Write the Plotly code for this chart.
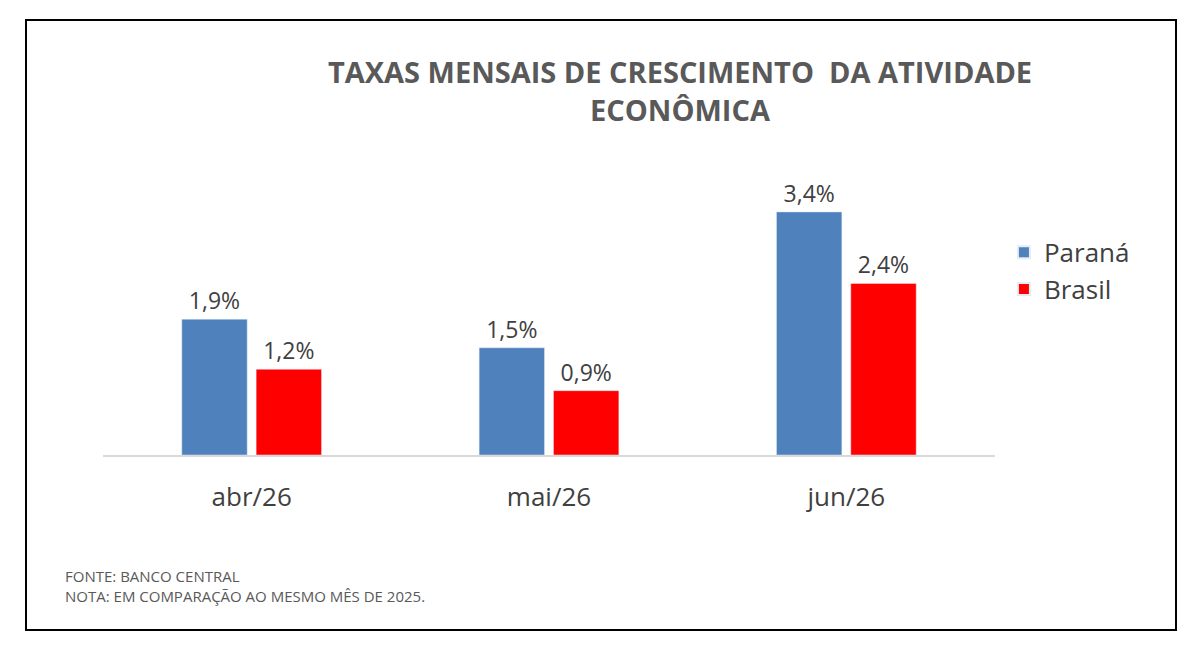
import plotly.graph_objects as go

months = ["abr/26", "mai/26", "jun/26"]
parana = [1.9, 1.5, 3.4]
brasil = [1.2, 0.9, 2.4]

W, H = 1187, 646
L, R, T, B = 95, 200, 150, 199
pw, ph = W - L - R, H - T - B


def px(x):
    return (x - L) / pw


def py(y):
    return (H - B - y) / ph


font = "Open Sans"
gray = "#595959"

fig = go.Figure()
fig.add_trace(go.Bar(x=months, y=parana, name="Paraná", marker_color="#4F81BD",
                     text=[f"{v:.1f}%".replace(".", ",") for v in parana],
                     textposition="outside", cliponaxis=False,
                     textfont=dict(size=23, color="#404040", family=font)))
fig.add_trace(go.Bar(x=months, y=brasil, name="Brasil", marker_color="#FF0000",
                     text=[f"{v:.1f}%".replace(".", ",") for v in brasil],
                     textposition="outside", cliponaxis=False,
                     textfont=dict(size=23, color="#404040", family=font)))

fig.update_layout(
    width=W, height=H,
    margin=dict(l=L, r=R, t=T, b=B),
    paper_bgcolor="white", plot_bgcolor="white",
    barmode="group", bargap=0.5, bargroupgap=0.12,
    font=dict(family=font, color=gray),
    title=dict(text="<b>TAXAS MENSAIS DE CRESCIMENTO  DA ATIVIDADE<br>ECONÔMICA</b>",
               x=px(600), xanchor="center", y=py(75) * ph / H + B / H, yanchor="middle",
               font=dict(size=29, color=gray, family=font)),
    legend=dict(x=1.01, y=0.62, xanchor="left", yanchor="middle",
                font=dict(size=26, color="#404040", family=font),
                itemsizing="constant", tracegroupgap=28),
    xaxis=dict(showline=True, linecolor="#D9D9D9", linewidth=1.5, ticks="outside",
               ticklen=18, tickcolor="rgba(0,0,0,0)",
               tickfont=dict(size=26, color="#404040", family=font)),
    yaxis=dict(visible=False, range=[0, (H - B - T) / 71.5]),
    shapes=[dict(type="rect", xref="paper", yref="paper",
                 x0=px(18), x1=px(1168), y0=py(622), y1=py(12),
                 line=dict(color="black", width=2))],
    annotations=[dict(xref="paper", yref="paper", x=px(55), y=py(578),
                      xanchor="left", yanchor="middle", align="left", showarrow=False,
                      text="FONTE: BANCO CENTRAL<br>NOTA: EM COMPARAÇÃO AO MESMO MÊS DE 2025.",
                      font=dict(size=15, color=gray, family=font))],
)

fig.write_html("out.html")
